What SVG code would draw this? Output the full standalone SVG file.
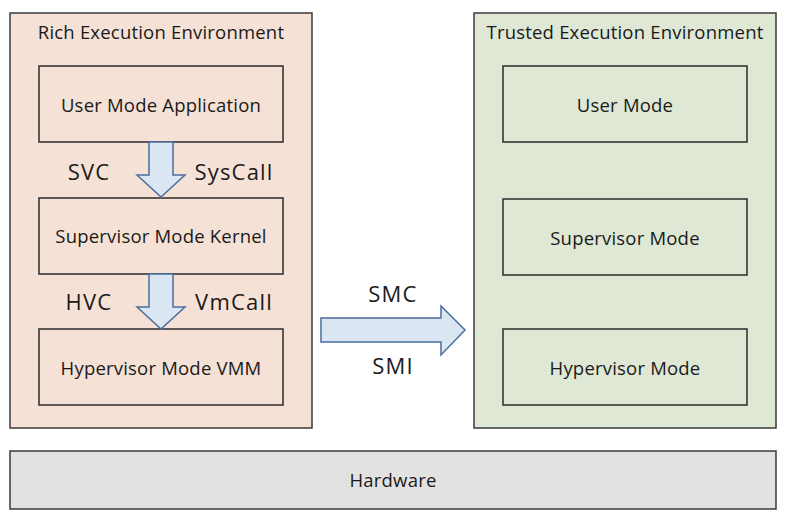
<svg xmlns="http://www.w3.org/2000/svg" width="787" height="522" viewBox="0 0 787 522">
<style>
.env{stroke:#3a3a3a;stroke-width:1.5}
.ree{fill:#f5e1d5}
.tee{fill:#dee8d5}
.box{fill:none;stroke:#2b2b2b;stroke-width:1.5}
.hw{fill:#e2e2e2;stroke:#3a3a3a;stroke-width:1.5}
.arr{fill:#dbe6f3;stroke:#4a6da0;stroke-width:1.5;stroke-linejoin:miter}
text{font-family:"Open Sans","Noto Sans","Liberation Sans",sans-serif;fill:#1a1a1a;text-anchor:middle}
.t{font-size:18.5px;letter-spacing:0.2px}
.l{font-size:22px;letter-spacing:1.2px}
</style>
<rect width="787" height="522" fill="#ffffff"/>
<g id="ree">
<rect class="env ree" x="10" y="13" width="302" height="415"/>
<text class="t" x="161" y="39">Rich Execution Environment</text>
</g>
<g id="tee">
<rect class="env tee" x="474" y="13" width="302" height="415"/>
<text class="t" x="625" y="39">Trusted Execution Environment</text>
</g>
<g id="hardware">
<rect class="hw" x="10" y="451" width="766" height="58"/>
<text class="t" x="393" y="487">Hardware</text>
</g>
<g id="user-mode-app">
<rect class="box" x="39" y="66" width="244" height="76"/>
<text class="t" x="161" y="112">User Mode Application</text>
</g>
<g id="supervisor-kernel">
<rect class="box" x="39" y="198" width="244" height="76"/>
<text class="t" x="161" y="243">Supervisor Mode Kernel</text>
</g>
<g id="hypervisor-vmm">
<rect class="box" x="39" y="329" width="244" height="76"/>
<text class="t" x="161" y="375">Hypervisor Mode VMM</text>
</g>
<g id="tee-user">
<rect class="box" x="503" y="66" width="244" height="76"/>
<text class="t" x="625" y="112">User Mode</text>
</g>
<g id="tee-supervisor">
<rect class="box" x="503" y="199" width="244" height="76"/>
<text class="t" x="625" y="245">Supervisor Mode</text>
</g>
<g id="tee-hypervisor">
<rect class="box" x="503" y="329" width="244" height="76"/>
<text class="t" x="625" y="375">Hypervisor Mode</text>
</g>
<g id="connectors">
<polygon class="arr" points="149,142 173,142 173,175 185,175 161,197 137,175 149,175"/>
<polygon class="arr" points="149,274 173,274 173,307 185,307 161,329 137,307 149,307"/>
<polygon class="arr" points="321,318 441,318 441,306 465,330 441,355 441,342 321,342"/>
<text class="l" x="89" y="180">SVC</text>
<text class="l" x="234" y="180">SysCall</text>
<text class="l" x="89" y="310">HVC</text>
<text class="l" x="234" y="310">VmCall</text>
<text class="l" x="393" y="302">SMC</text>
<text class="l" x="393" y="374">SMI</text>
</g>
</svg>
